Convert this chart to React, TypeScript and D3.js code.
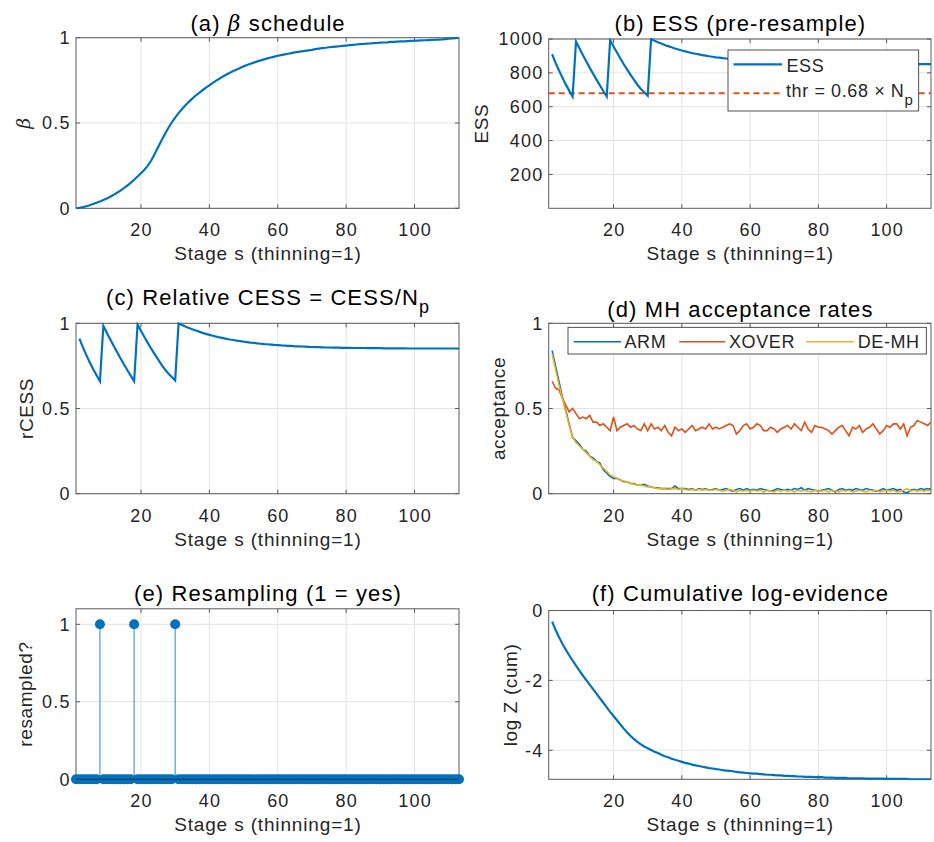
import React from "react";
import * as d3 from "d3";

// ---------------- data ----------------
const S_FIRST = 1;
const S_LAST = 113;
const NP = 1000;
const ESS_THR = 680;

// beta schedule, stages 1..113
const beta = [
  0, 0.003, 0.007, 0.012, 0.018, 0.025, 0.032, 0.04, 0.049, 0.058,
  0.068, 0.079, 0.091, 0.104, 0.118, 0.133, 0.149, 0.167, 0.186, 0.206,
  0.226, 0.25, 0.28, 0.318, 0.358, 0.398, 0.436, 0.471, 0.503, 0.532,
  0.558, 0.582, 0.604, 0.624, 0.643, 0.661, 0.677, 0.692, 0.707, 0.721,
  0.735, 0.748, 0.761, 0.773, 0.784, 0.795, 0.805, 0.814, 0.823, 0.832,
  0.84, 0.847, 0.854, 0.861, 0.867, 0.873, 0.879, 0.884, 0.889, 0.894,
  0.898, 0.902, 0.906, 0.91, 0.914, 0.917, 0.92, 0.923, 0.926, 0.929,
  0.933, 0.936, 0.939, 0.941, 0.944, 0.946, 0.948, 0.95, 0.952, 0.954,
  0.956, 0.958, 0.96, 0.962, 0.963, 0.965, 0.966, 0.968, 0.969, 0.971,
  0.972, 0.973, 0.975, 0.976, 0.977, 0.978, 0.979, 0.98, 0.981, 0.982,
  0.983, 0.984, 0.985, 0.986, 0.987, 0.988, 0.989, 0.99, 0.992, 0.994, 0.996, 0.998, 1.0,
];

// ESS (pre-resample), stages 2..113
const ess = [
  910, 860, 815, 772, 732, 695, 660,
  985, 945, 906, 868, 831, 795, 760, 726, 693, 660,
  993, 956, 920, 885, 851, 819, 788, 758, 730, 705, 685, 665,
  1000, 990, 981, 973, 965, 958, 951, 944, 938, 932, 927, 922, 917, 913, 909, 905,
  902, 898, 895, 892, 890, 887, 885, 882, 880, 878, 877, 875, 873, 872, 870, 869,
  868, 867, 865, 865, 864, 863, 862, 861, 860, 860, 859, 858, 858, 857,
  857, 857, 856, 856, 856, 855, 855, 855, 855, 854, 854, 854, 854, 854,
  853, 853, 853, 853, 853, 853, 853,
  852, 852, 852, 852, 852, 852, 852, 852, 852, 852, 852, 852, 852, 852, 852, 852,
];

// MH acceptance rates, stages 2..113
const accARM = [
  0.84, 0.75, 0.66, 0.57, 0.49, 0.41, 0.33, 0.31, 0.29,
  0.26, 0.25, 0.22, 0.21, 0.19, 0.18, 0.14, 0.12, 0.1, 0.09,
  0.09, 0.08, 0.07, 0.07, 0.06, 0.06, 0.05, 0.05, 0.055, 0.045,
  0.04, 0.035, 0.035, 0.03, 0.03, 0.03, 0.03, 0.045, 0.03, 0.03,
  0.03, 0.025, 0.03, 0.02, 0.03, 0.025, 0.03, 0.02, 0.025, 0.03,
  0.02, 0.025, 0.03, 0.02, 0.015, 0.025, 0.03, 0.02, 0.03, 0.02,
  0.025, 0.02, 0.03, 0.025, 0.02, 0.015, 0.02, 0.03, 0.025, 0.02,
  0.025, 0.02, 0.03, 0.025, 0.035, 0.02, 0.03, 0.025, 0.02, 0.015,
  0.02, 0.025, 0.03, 0.02, 0.01, 0.025, 0.03, 0.02, 0.025, 0.02,
  0.03, 0.025, 0.02, 0.03, 0.025, 0.02, 0.015, 0.02, 0.03, 0.02,
  0.025, 0.03, 0.02, 0.025, 0.01, 0.005, 0.02, 0.025, 0.02, 0.03,
  0.025, 0.03, 0.025,
];
const accXOVER = [
  0.66, 0.62, 0.61, 0.56, 0.52, 0.48, 0.5, 0.47, 0.44,
  0.45, 0.44, 0.46, 0.42, 0.42, 0.4, 0.41, 0.39, 0.37, 0.45,
  0.37, 0.39, 0.4, 0.41, 0.39, 0.4, 0.38, 0.37, 0.41, 0.37,
  0.41, 0.38, 0.39, 0.37, 0.4, 0.36, 0.34, 0.39, 0.37, 0.38,
  0.36, 0.38, 0.4, 0.37, 0.38, 0.39, 0.38, 0.41, 0.38, 0.39,
  0.38, 0.39, 0.4, 0.41, 0.4, 0.35, 0.37, 0.4, 0.41, 0.38,
  0.39, 0.41, 0.4, 0.37, 0.37, 0.39, 0.38, 0.36, 0.38, 0.39,
  0.4, 0.38, 0.41, 0.39, 0.37, 0.42, 0.38, 0.36, 0.4, 0.39,
  0.39, 0.38, 0.37, 0.35, 0.37, 0.39, 0.4, 0.37, 0.34, 0.39,
  0.38, 0.4, 0.36, 0.38, 0.39, 0.41, 0.38, 0.35, 0.37, 0.4,
  0.39, 0.41, 0.41, 0.38, 0.41, 0.34, 0.39, 0.4, 0.43, 0.42,
  0.41, 0.4, 0.42,
];
const accDEMH = [
  0.82, 0.73, 0.64, 0.56, 0.48, 0.4, 0.33, 0.3, 0.28,
  0.26, 0.24, 0.22, 0.2, 0.19, 0.17, 0.15, 0.13, 0.11, 0.1,
  0.09, 0.08, 0.075, 0.07, 0.06, 0.055, 0.05, 0.05, 0.045, 0.04,
  0.04, 0.035, 0.03, 0.03, 0.03, 0.025, 0.03, 0.03, 0.025, 0.03,
  0.025, 0.02, 0.025, 0.02, 0.025, 0.02, 0.025, 0.02, 0.02, 0.025,
  0.02, 0.015, 0.02, 0.025, 0.02, 0.01, 0.02, 0.015, 0.02, 0.015,
  0.02, 0.015, 0.02, 0.01, 0.02, 0.015, 0.01, 0.02, 0.015, 0.02,
  0.015, 0.02, 0.01, 0.02, 0.015, 0.02, 0.015, 0.01, 0.02, 0.015,
  0.015, 0.02, 0.01, 0.02, 0.015, 0.01, 0.02, 0.015, 0.02, 0.01,
  0.015, 0.02, 0.015, 0.01, 0.02, 0.015, 0.02, 0.01, 0.015, 0.02,
  0.015, 0.02, 0.01, 0.015, 0.02, 0.03, 0.015, 0.02, 0.015, 0.02,
  0.015, 0.02, 0.015,
];

// stages where resampling happened
const resampleStages = [8, 18, 30];

// cumulative log-evidence, stages 2..113
const logZ = [
  -0.32, -0.55, -0.76, -0.95, -1.12, -1.28, -1.43, -1.58, -1.72,
  -1.86, -1.99, -2.12, -2.25, -2.38, -2.51, -2.64, -2.77, -2.9, -3.02,
  -3.14, -3.26, -3.38, -3.49, -3.59, -3.68, -3.76, -3.83, -3.89, -3.94,
  -3.99, -4.04, -4.08, -4.13, -4.17, -4.2, -4.24, -4.27, -4.3, -4.33,
  -4.36, -4.38, -4.41, -4.43, -4.45, -4.47, -4.49, -4.51, -4.52, -4.54,
  -4.55, -4.57, -4.58, -4.59, -4.6, -4.62, -4.63, -4.64, -4.65, -4.66,
  -4.67, -4.67, -4.68, -4.69, -4.7, -4.7, -4.71, -4.72, -4.72, -4.73,
  -4.73, -4.74, -4.74, -4.75, -4.75, -4.76, -4.76, -4.76, -4.77, -4.77,
  -4.77, -4.78, -4.78, -4.78, -4.79, -4.79, -4.79, -4.79, -4.8, -4.8,
  -4.8, -4.8, -4.8, -4.81, -4.81, -4.81, -4.81, -4.81, -4.81, -4.82,
  -4.82, -4.82, -4.82, -4.82, -4.82, -4.82, -4.83, -4.83, -4.83, -4.83, -4.83, -4.83, -4.83,
];

const xTicks = [20, 40, 60, 80, 100];
const ticksUnit = [0, 0.5, 1];
const ticksESS = [200, 400, 600, 800, 1000];
const ticksLogZ = [-4, -2, 0];

// ---------------- style ----------------
const FONT = '"Liberation Sans", Arial, Helvetica, sans-serif';
const TXT = "#262626";
const AX = "#5a5a5a";
const GRID = "#e3e3e3";
const BLUE = "#0072BD";
const ORANGE = "#D95319";
const YELLOW = "#EDB120";

const TICK_FS = 18;
const TICK_LS = 1.2;
const XL_FS = 19;
const XL_LS = 0.85;
const YL_FS = 19;
const YL_LS = 0.6;
const TT_FS = 22;
const TT_LS = 1.1;
const LG_FS = 18;
const LG_LS = 0.6;

type Box = { l: number; r: number; t: number; b: number };

const LEFT: [number, number] = [76, 459];
const RIGHT: [number, number] = [548.7, 931];

function toPts(vals: number[], firstStage: number) {
  return vals.map((v, i) => [firstStage + i, v] as [number, number]);
}

function Panel(props: {
  id: string;
  box: Box;
  yDomain: [number, number];
  yTicks: number[];
  title: React.ReactNode;
  titleY: number;
  ylabel: React.ReactNode;
  ylabelX: number;
  render: (x: d3.ScaleLinear<number, number>, y: d3.ScaleLinear<number, number>) => React.ReactNode;
  overlay?: (x: d3.ScaleLinear<number, number>, y: d3.ScaleLinear<number, number>) => React.ReactNode;
  clip?: boolean;
}) {
  const { id, box, yDomain, yTicks } = props;
  const x = d3.scaleLinear().domain([S_FIRST, S_LAST]).range([box.l, box.r]);
  const y = d3.scaleLinear().domain(yDomain).range([box.b, box.t]);
  const cx = (box.l + box.r) / 2;
  const cy = (box.t + box.b) / 2;
  const tl = 4;
  return (
    <g>
      <defs>
        <clipPath id={id}>
          <rect x={box.l} y={box.t - 1} width={box.r - box.l} height={box.b - box.t + 2} />
        </clipPath>
      </defs>
      {/* grid */}
      {xTicks.map((t) => (
        <line key={"gx" + t} x1={x(t)} x2={x(t)} y1={box.t} y2={box.b} stroke={GRID} strokeWidth={1} />
      ))}
      {yTicks.map((t) => (
        <line key={"gy" + t} x1={box.l} x2={box.r} y1={y(t)} y2={y(t)} stroke={GRID} strokeWidth={1} />
      ))}
      {/* box */}
      <rect x={box.l} y={box.t} width={box.r - box.l} height={box.b - box.t} fill="none" stroke={AX} strokeWidth={1} />
      {/* ticks */}
      {xTicks.map((t) => (
        <g key={"tx" + t}>
          <line x1={x(t)} x2={x(t)} y1={box.b} y2={box.b - tl} stroke={AX} />
          <line x1={x(t)} x2={x(t)} y1={box.t} y2={box.t + tl} stroke={AX} />
          <text
            x={x(t) + TICK_LS / 2}
            y={box.b + 28}
            textAnchor="middle"
            fontSize={TICK_FS}
            fill={TXT}
            fontFamily={FONT}
            style={{ letterSpacing: `${TICK_LS}px` }}
          >
            {t}
          </text>
        </g>
      ))}
      {yTicks.map((t) => (
        <g key={"ty" + t}>
          <line x1={box.l} x2={box.l + tl} y1={y(t)} y2={y(t)} stroke={AX} />
          <line x1={box.r} x2={box.r - tl} y1={y(t)} y2={y(t)} stroke={AX} />
          <text
            x={box.l - 6.5 + TICK_LS}
            y={y(t) + 6.4}
            textAnchor="end"
            fontSize={TICK_FS}
            fill={TXT}
            fontFamily={FONT}
            style={{ letterSpacing: `${TICK_LS}px` }}
          >
            {String(t)}
          </text>
        </g>
      ))}
      {/* data */}
      <g clipPath={props.clip === false ? undefined : `url(#${id})`}>{props.render(x, y)}</g>
      {props.overlay ? props.overlay(x, y) : null}
      {/* labels */}
      <text
        x={cx + XL_LS / 2}
        y={box.b + 52}
        textAnchor="middle"
        fontSize={XL_FS}
        fill={TXT}
        fontFamily={FONT}
        style={{ letterSpacing: `${XL_LS}px` }}
      >
        Stage s (thinning=1)
      </text>
      <text
        x={cx + TT_LS / 2}
        y={props.titleY}
        textAnchor="middle"
        fontSize={TT_FS}
        fill="#000"
        fontFamily={FONT}
        style={{ letterSpacing: `${TT_LS}px` }}
      >
        {props.title}
      </text>
      <text
        transform={`translate(${props.ylabelX},${cy}) rotate(-90)`}
        textAnchor="middle"
        fontSize={YL_FS}
        fill={TXT}
        fontFamily={FONT}
        style={{ letterSpacing: `${YL_LS}px` }}
      >
        {props.ylabel}
      </text>
    </g>
  );
}

function linePath(x: d3.ScaleLinear<number, number>, y: d3.ScaleLinear<number, number>, pts: [number, number][]) {
  return d3
    .line<[number, number]>()
    .x((d) => x(d[0]))
    .y((d) => y(d[1]))(pts) as string;
}

export default function App() {
  const betaPts = toPts(beta, 1);
  const essPts = toPts(ess, 2);
  const rcessPts = toPts(
    ess.map((v) => v / NP),
    2
  );
  const armPts = toPts(accARM, 2);
  const xoPts = toPts(accXOVER, 2);
  const dePts = toPts(accDEMH, 2);
  const lzPts = toPts(logZ, 2);
  const stages = d3.range(S_FIRST, S_LAST + 1);
  const resampled = stages.map((s) => (resampleStages.includes(s) ? 1 : 0));
  const lgStyle = { letterSpacing: `${LG_LS}px` };

  return (
    <svg width={934} height={842} style={{ display: "block", position: "absolute", left: 0, top: 0, background: "#fff" }}>
      <rect x={0} y={0} width={934} height={842} fill="#fff" />

      {/* (a) */}
      <Panel
        id="ca"
        box={{ l: LEFT[0], r: LEFT[1], t: 37.7, b: 208.3 }}
        yDomain={[0, 1]}
        yTicks={ticksUnit}
        title={
          <>
            (a) <tspan fontStyle="italic" fontFamily='"DejaVu Serif", serif'>β</tspan> schedule
          </>
        }
        titleY={30.5}
        ylabel={<tspan fontStyle="italic" fontFamily='"DejaVu Serif", serif'>β</tspan>}
        ylabelX={30}
        render={(x, y) => <path d={linePath(x, y, betaPts)} fill="none" stroke={BLUE} strokeWidth={2.2} />}
      />

      {/* (b) */}
      <Panel
        id="cb"
        box={{ l: RIGHT[0], r: RIGHT[1], t: 39, b: 208.3 }}
        yDomain={[0, 1000]}
        yTicks={ticksESS}
        title="(b) ESS (pre-resample)"
        titleY={30.5}
        ylabel="ESS"
        ylabelX={487.5}
        render={(x, y) => (
          <>
            <line x1={x(S_FIRST)} x2={x(S_LAST)} y1={y(ESS_THR)} y2={y(ESS_THR)} stroke={ORANGE} strokeWidth={2} strokeDasharray="6,4" />
            <path d={linePath(x, y, essPts)} fill="none" stroke={BLUE} strokeWidth={2.2} />
          </>
        )}
        overlay={(x, y) => (
          <g fontFamily={FONT} fill={TXT} fontSize={LG_FS}>
            <rect x={728} y={50} width={190.7} height={61} fill="#fff" stroke={TXT} strokeWidth={0.8} />
            <line x1={733.5} x2={782} y1={64.3} y2={64.3} stroke={BLUE} strokeWidth={2.2} />
            <text x={786.5} y={71.7} style={lgStyle}>ESS</text>
            <line x1={733.5} x2={782} y1={y(ESS_THR)} y2={y(ESS_THR)} stroke={ORANGE} strokeWidth={2} strokeDasharray="6,4" />
            <text x={786} y={97} style={lgStyle}>
              thr = 0.68 × N<tspan dy={8} fontSize={15}>p</tspan>
            </text>
          </g>
        )}
      />

      {/* (c) */}
      <Panel
        id="cc"
        box={{ l: LEFT[0], r: LEFT[1], t: 323.3, b: 493.7 }}
        yDomain={[0, 1]}
        yTicks={ticksUnit}
        title={
          <>
            (c) Relative CESS = CESS/N<tspan dy={8} fontSize={18}>p</tspan>
          </>
        }
        titleY={304.5}
        ylabel="rCESS"
        ylabelX={33.3}
        render={(x, y) => <path d={linePath(x, y, rcessPts)} fill="none" stroke={BLUE} strokeWidth={2.2} />}
      />

      {/* (d) */}
      <Panel
        id="cd"
        box={{ l: RIGHT[0], r: RIGHT[1], t: 323.3, b: 493.7 }}
        yDomain={[0, 1]}
        yTicks={ticksUnit}
        title="(d) MH acceptance rates"
        titleY={317}
        ylabel="acceptance"
        ylabelX={505}
        render={(x, y) => (
          <>
            <path d={linePath(x, y, armPts)} fill="none" stroke={BLUE} strokeWidth={1.6} />
            <path d={linePath(x, y, xoPts)} fill="none" stroke={ORANGE} strokeWidth={1.6} />
            <path d={linePath(x, y, dePts)} fill="none" stroke={YELLOW} strokeWidth={1.6} />
          </>
        )}
        overlay={() => (
          <g fontFamily={FONT} fill={TXT} fontSize={LG_FS}>
            <rect x={568} y={327.3} width={358.3} height={26.7} fill="#fff" stroke={TXT} strokeWidth={0.8} />
            <line x1={573.7} x2={621} y1={341.7} y2={341.7} stroke={BLUE} strokeWidth={1.6} />
            <text x={624.5} y={348} style={lgStyle}>ARM</text>
            <line x1={679.3} x2={725.3} y1={341.7} y2={341.7} stroke={ORANGE} strokeWidth={1.6} />
            <text x={729} y={348} style={lgStyle}>XOVER</text>
            <line x1={806.3} x2={853.7} y1={341.7} y2={341.7} stroke={YELLOW} strokeWidth={1.6} />
            <text x={857.7} y={348} style={lgStyle}>DE-MH</text>
          </g>
        )}
      />

      {/* (e) */}
      <Panel
        id="ce"
        box={{ l: LEFT[0], r: LEFT[1], t: 608.8, b: 779.3 }}
        yDomain={[0, 1.1]}
        yTicks={ticksUnit}
        title="(e) Resampling (1 = yes)"
        titleY={600.5}
        ylabel="resampled?"
        ylabelX={32}
        clip={false}
        render={(x, y) => (
          <>
            {stages.map((s, i) =>
              resampled[i] ? (
                <line key={"st" + s} x1={x(s)} x2={x(s)} y1={y(0)} y2={y(resampled[i])} stroke={BLUE} strokeOpacity={0.7} strokeWidth={1.2} />
              ) : null
            )}
            {stages.map((s, i) => (
              <circle key={"mk" + s} cx={x(s)} cy={y(resampled[i])} r={5} fill={BLUE} />
            ))}
            <line x1={x(S_FIRST)} x2={x(S_LAST)} y1={y(0)} y2={y(0)} stroke="#1f3550" strokeWidth={1} />
          </>
        )}
      />

      {/* (f) */}
      <Panel
        id="cf"
        box={{ l: RIGHT[0], r: RIGHT[1], t: 610.5, b: 779.3 }}
        yDomain={[-4.83, 0]}
        yTicks={ticksLogZ}
        title="(f) Cumulative log-evidence"
        titleY={600.5}
        ylabel="log Z (cum)"
        ylabelX={516.5}
        render={(x, y) => <path d={linePath(x, y, lzPts)} fill="none" stroke={BLUE} strokeWidth={2.2} />}
      />
    </svg>
  );
}
